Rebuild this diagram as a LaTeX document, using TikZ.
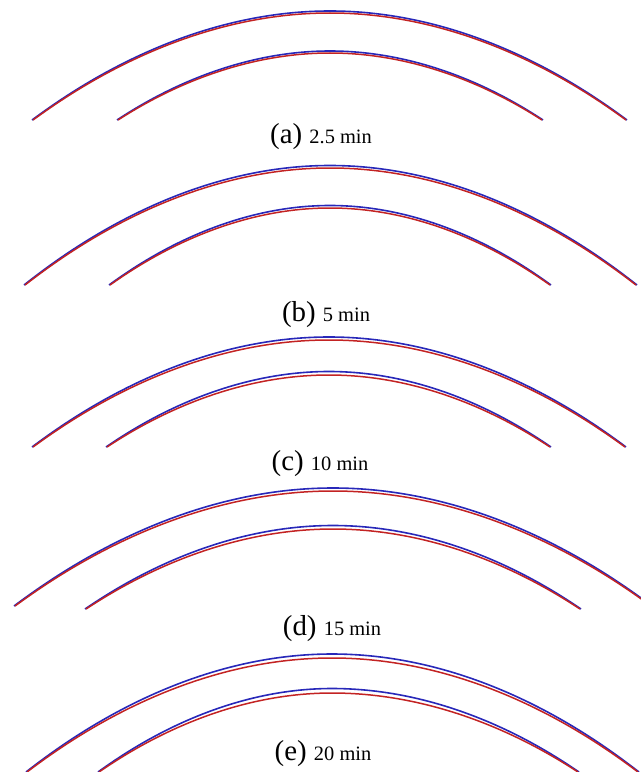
\documentclass[tikz,border=0pt]{standalone}
\usepackage{fontspec}
\setmainfont{Liberation Serif}
\definecolor{fitblue}{RGB}{40,40,185}
\definecolor{fitred}{RGB}{195,35,35}
\newcommand{\tagsize}{\fontsize{29}{31}\selectfont}
\newcommand{\minsize}{\fontsize{20.5}{22}\selectfont}

\begin{document}
\begin{tikzpicture}[x=1bp, y=-1bp,
  meas/.style={draw=fitblue, line width=1.6bp},
  calc/.style={draw=fitred, line width=1.5bp},
  tagcap/.style={anchor=base, inner sep=0pt},
]
\useasboundingbox (0,0) rectangle (641,772);
\clip (0,0) rectangle (641,772);

% Panel (a): 2.5 min
\draw[meas] (32,120) parabola bend (330,11) (627,120);
\draw[calc] (33,120) parabola bend (330,13) (626,120);
\draw[meas] (117,120) parabola bend (330,51) (543,120);
\draw[calc] (118,120) parabola bend (330,53) (542,120);
\node[tagcap] (capa) at (321,143) {\tagsize (a) \minsize 2.5 min};

% Panel (b): 5 min
\draw[meas] (24,285) parabola bend (330,165.5) (637,285);
\draw[calc] (25,285) parabola bend (330,168) (636,285);
\draw[meas] (109,285) parabola bend (330,205.5) (551,285);
\draw[calc] (110,285) parabola bend (330,208) (550,285);
\node[tagcap] (capb) at (326,321) {\tagsize (b) \minsize 5 min};

% Panel (c): 10 min
\draw[meas] (32,447) parabola bend (329,337) (626,447);
\draw[calc] (33,447) parabola bend (329,340) (625,447);
\draw[meas] (106,447) parabola bend (329,371.5) (551,447);
\draw[calc] (107,447) parabola bend (329,375) (550,447);
\node[tagcap] (capc) at (320,470) {\tagsize (c) \minsize 10 min};

% Panel (d): 15 min
\draw[meas] (14,606) parabola bend (333,488) (652,606);
\draw[calc] (15,606) parabola bend (333,491) (651,606);
\draw[meas] (85,609) parabola bend (333,525.5) (581,609);
\draw[calc] (86,609) parabola bend (333,529) (580,609);
\node[tagcap] (capd) at (332,635) {\tagsize (d) \minsize 15 min};

% Panel (e): 20 min
\draw[meas] (26,772) parabola bend (332,654) (639,772);
\draw[calc] (27,772) parabola bend (332,658) (638,772);
\draw[meas] (98,772) parabola bend (332,688.5) (579,772);
\draw[calc] (99,772) parabola bend (332,693) (578,772);
\node[tagcap] (cape) at (323,760) {\tagsize (e) \minsize 20 min};

\end{tikzpicture}
\end{document}
